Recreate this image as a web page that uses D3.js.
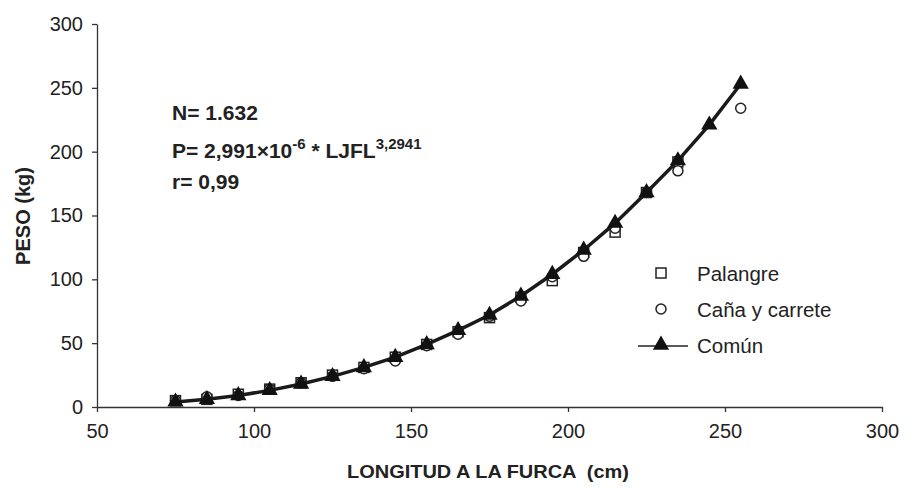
<!DOCTYPE html>
<html lang="es">
<head>
    <meta charset="UTF-8">
    <title>Peso vs longitud a la furca</title>
    <script src="https://d3js.org/d3.v7.min.js"></script>
    <style>
        body {
            margin: 0;
            background: #fff;
            font-family: "Liberation Sans", Arial, sans-serif;
        }
        .axis-title {
            font-weight: bold;
            fill: #222;
        }
        .note text {
            font-size: 21px;
            font-weight: bold;
            fill: #222;
        }
        .legend text {
            font-size: 20.5px;
            fill: #222;
        }
    </style>
</head>
<body>
    <script>
        const width = 909, height = 487;

        // talla (cm) y peso (kg)
        const lengths = [75, 85, 95, 105, 115, 125, 135, 145, 155, 165, 175, 185, 195, 205, 215, 225, 235, 245, 255];
        const comun = [4, 6, 9, 13, 18, 24, 31, 39, 49, 60, 72, 87, 104, 123, 144, 168, 193, 221, 253];
        const palangre = [5, 6, 10, 14, 19, 25, 31, 39, 49, 59, 70, 86, 99, 121, 137, 168, 192];
        const canaLengths = [75, 85, 95, 105, 115, 125, 135, 145, 155, 165, 175, 185, 195, 205, 215, 225, 235, 255];
        const cana = [5, 8, 9, 14, 19, 24, 30, 36, 48, 57, 71, 83, 102, 118, 140, 168, 185, 234];

        const xTicks = [50, 100, 150, 200, 250, 300];
        const yTicks = [0, 50, 100, 150, 200, 250, 300];

        const svg = d3.select("body").append("svg")
            .attr("width", width)
            .attr("height", height);

        const x = d3.scaleLinear().domain([50, 300]).range([97, 882]);
        const y = d3.scaleLinear().domain([0, 300]).range([407, 24]);

        // ejes
        const xAxis = svg.append("g")
            .attr("transform", `translate(0,${y(0)})`)
            .call(d3.axisBottom(x).tickValues(xTicks).tickSize(5).tickSizeOuter(0).tickPadding(12));
        const yAxis = svg.append("g")
            .attr("transform", `translate(${x(50)},0)`)
            .call(d3.axisLeft(y).tickValues(yTicks).tickSize(5).tickSizeOuter(0).tickPadding(9));
        svg.selectAll(".tick text")
            .attr("font-family", "Liberation Sans, Arial, sans-serif")
            .attr("font-size", 20)
            .attr("fill", "#222");
        svg.selectAll(".domain, .tick line").attr("stroke", "#333").attr("stroke-width", 1.3);

        svg.append("text")
            .attr("class", "axis-title")
            .attr("x", 488)
            .attr("y", 478)
            .attr("font-size", 19)
            .attr("text-anchor", "middle")
            .attr("textLength", 282)
            .attr("lengthAdjust", "spacingAndGlyphs")
            .attr("xml:space", "preserve")
            .text("LONGITUD A LA FURCA  (cm)");

        svg.append("text")
            .attr("class", "axis-title")
            .attr("font-size", 20)
            .attr("transform", "translate(30,216) rotate(-90)")
            .attr("text-anchor", "middle")
            .text("PESO (kg)");

        // anotaciones
        const note = svg.append("g").attr("class", "note");
        note.append("text").attr("x", 172).attr("y", 120).text("N= 1.632");
        const eq = note.append("text").attr("x", 172).attr("y", 158);
        eq.append("tspan").text("P= 2,991×10");
        eq.append("tspan").attr("dy", -9).attr("font-size", 15).text("-6");
        eq.append("tspan").attr("dy", 9).text(" * LJFL");
        eq.append("tspan").attr("dy", -9).attr("font-size", 15).text("3,2941");
        note.append("text").attr("x", 172).attr("y", 189).text("r= 0,99");

        // palangre (cuadrados)
        svg.append("g").selectAll("rect")
            .data(palangre)
            .join("rect")
            .attr("x", (d, i) => x(lengths[i]) - 5)
            .attr("y", d => y(d) - 5)
            .attr("width", 10)
            .attr("height", 10)
            .attr("fill", "#fff")
            .attr("stroke", "#222")
            .attr("stroke-width", 1.5);

        // caña y carrete (círculos)
        svg.append("g").selectAll("circle")
            .data(cana)
            .join("circle")
            .attr("cx", (d, i) => x(canaLengths[i]))
            .attr("cy", d => y(d))
            .attr("r", 5)
            .attr("fill", "#fff")
            .attr("stroke", "#222")
            .attr("stroke-width", 1.5);

        // común (línea + triángulos)
        const line = d3.line()
            .x((d, i) => x(lengths[i]))
            .y(d => y(d));

        svg.append("path")
            .datum(comun)
            .attr("d", line)
            .attr("fill", "none")
            .attr("stroke", "#1a1a1a")
            .attr("stroke-width", 3.5);

        const tri = d3.symbol().type(d3.symbolTriangle).size(115);
        svg.append("g").selectAll("path")
            .data(comun)
            .join("path")
            .attr("d", tri)
            .attr("transform", (d, i) => `translate(${x(lengths[i])},${y(d)})`)
            .attr("fill", "#111");

        // leyenda
        const legend = svg.append("g").attr("class", "legend");
        legend.append("rect")
            .attr("x", 656).attr("y", 268).attr("width", 10).attr("height", 10)
            .attr("fill", "#fff").attr("stroke", "#222").attr("stroke-width", 1.5);
        legend.append("text").attr("x", 697).attr("y", 281).text("Palangre");
        legend.append("circle")
            .attr("cx", 661).attr("cy", 309).attr("r", 5)
            .attr("fill", "#fff").attr("stroke", "#222").attr("stroke-width", 1.5);
        legend.append("text").attr("x", 697).attr("y", 317).text("Caña y carrete");
        legend.append("line")
            .attr("x1", 638).attr("x2", 688).attr("y1", 346).attr("y2", 346)
            .attr("stroke", "#222").attr("stroke-width", 1.3);
        legend.append("path")
            .attr("d", tri)
            .attr("transform", "translate(661,345)")
            .attr("fill", "#111");
        legend.append("text").attr("x", 697).attr("y", 353).text("Común");
    </script>
</body>
</html>
